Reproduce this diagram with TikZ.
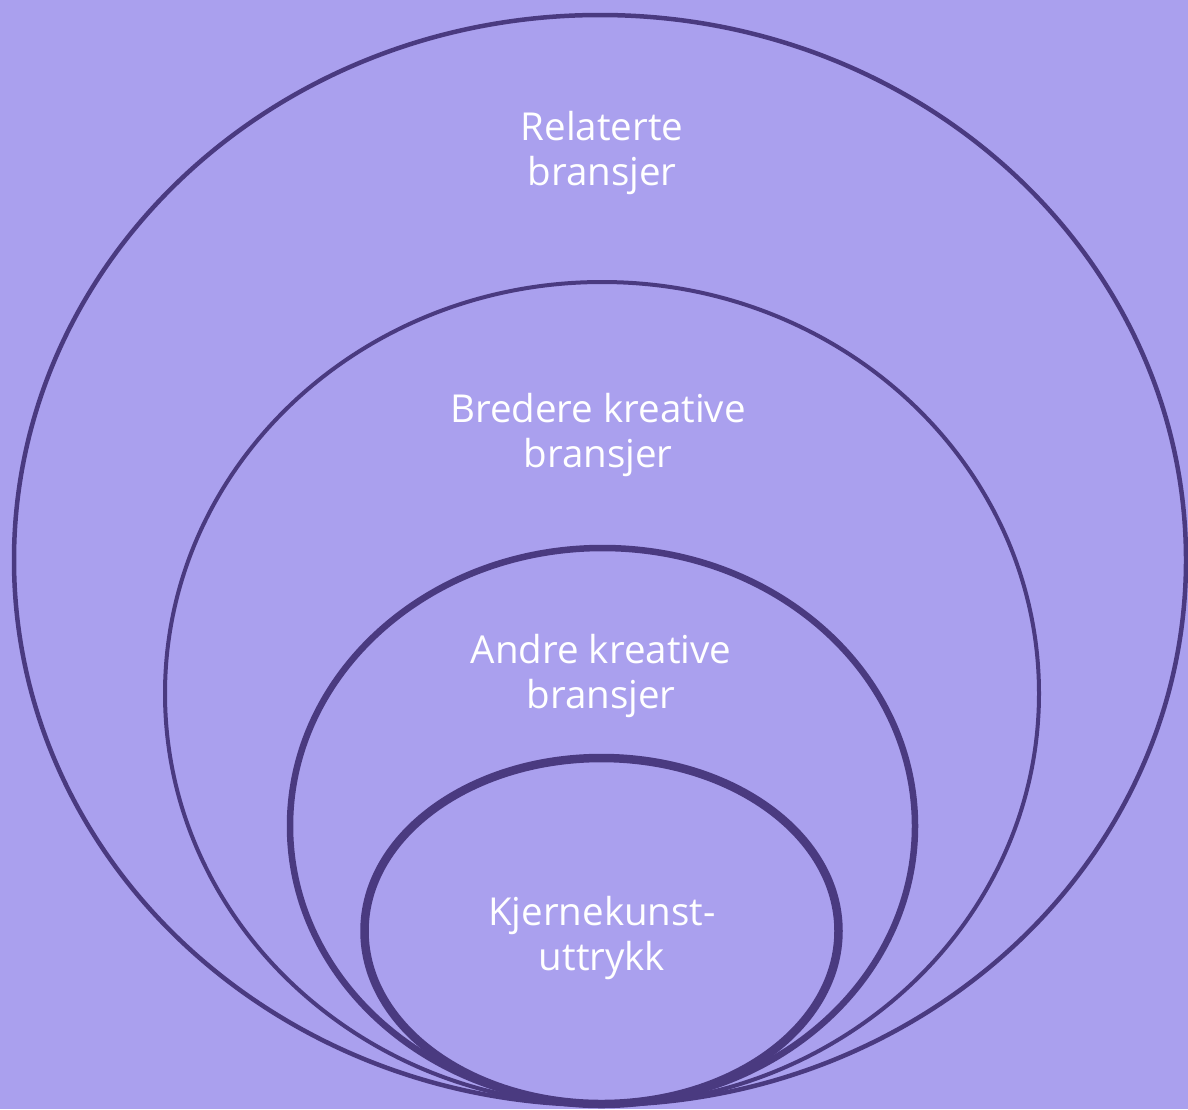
\documentclass[tikz,border=0pt]{standalone}
\usepackage{fontspec}
\setmainfont{Open Sans}
\definecolor{bgc}{HTML}{AAA0EE}
\definecolor{ringc}{HTML}{4A3A80}
\begin{document}
\begin{tikzpicture}[x=1pt,y=-1pt,
  ring/.style={draw=ringc},
  lbl/.style={text=white,align=center,font=\fontsize{38.5}{45}\selectfont,inner sep=0pt}]
\fill[bgc] (0,0) rectangle (1188,1109);
\useasboundingbox (0,0) rectangle (1188,1109);
\draw[ring,line width=4.5pt] (600,560) ellipse [x radius=586, y radius=545];
\draw[ring,line width=4pt] (602,693.5) ellipse [x radius=437, y radius=411.5];
\draw[ring,line width=6.5pt] (602.5,826) ellipse [x radius=312.5, y radius=278];
\draw[ring,line width=8.5pt] (601.5,931) ellipse [x radius=237, y radius=173];
\node[lbl] (r) at (602,153) {Relaterte\\bransjer};
\node[lbl] (b) at (598,435) {Bredere kreative\\bransjer};
\node[lbl] (a) at (601,676) {Andre kreative\\bransjer};
\node[lbl] (k) at (602,938) {Kjernekunst-\\uttrykk};
\end{tikzpicture}
\end{document}
